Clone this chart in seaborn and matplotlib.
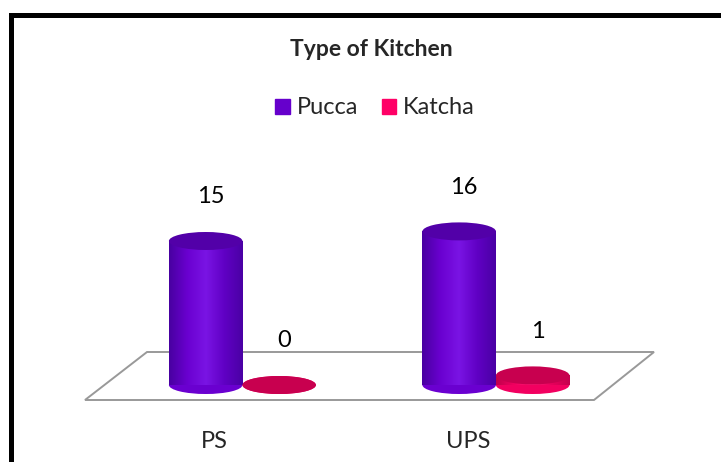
import numpy as np
import pandas as pd
import matplotlib.pyplot as plt
import seaborn as sns
from matplotlib.patches import Ellipse, Polygon, Rectangle, Patch
from matplotlib.colors import LinearSegmentedColormap

# data
schools = ["PS", "UPS"]
kitchen_types = ["Pucca", "Katcha"]
pucca = [15, 16]
katcha = [0, 1]

colors = {"Pucca": "#6600CC", "Katcha": "#FF0066"}
top_colors = {"Pucca": "#5200A8", "Katcha": "#C8004F"}
shades = {
    "Pucca": ["#4800A0", "#6A00D0", "#7A14E4", "#6000C4", "#4A00A4"],
    "Katcha": ["#C0004C", "#F20060", "#FF1A76", "#E8005C", "#C4004E"],
}

df = pd.DataFrame({
    "school": schools * 2,
    "kitchen": ["Pucca"] * len(pucca) + ["Katcha"] * len(katcha),
    "count": pucca + katcha,
})

sns.set_style("white")
plt.rcParams["font.family"] = ["Lato", "DejaVu Sans"]

W, H = 721, 462
fig = plt.figure(figsize=(W / 100, H / 100), dpi=100)

px_per_unit = 9.6
ax = fig.add_axes([85 / W, 62 / H, 569 / W, 250 / H])
ax.patch.set_visible(False)

sns.barplot(data=df, x="school", y="count", hue="kitchen", order=schools,
            hue_order=kitchen_types, palette=colors, width=0.58,
            linewidth=0, edgecolor="none", legend=False, ax=ax, zorder=3)

xlim = (-0.621, -0.621 + 569 / 253.5)
ylo = -15 / px_per_unit
ylim = (ylo, ylo + 250 / px_per_unit)
ell_h = 18 / px_per_unit

# turn flat bars into shaded cylinders
for kind, container in zip(kitchen_types, ax.containers):
    cmap = LinearSegmentedColormap.from_list(kind, shades[kind])
    grad = np.linspace(0, 1, 256).reshape(1, -1)
    for bar in container:
        x0, w, h = bar.get_x(), bar.get_width(), bar.get_height()
        cx = x0 + w / 2
        ax.add_patch(Ellipse((cx, 0), w, ell_h, color=shades[kind][1],
                             lw=0, zorder=2, clip_on=False))
        if h > 0:
            img = ax.imshow(grad, extent=[x0, x0 + w, 0, h], cmap=cmap,
                            aspect="auto", zorder=3.5)
            img.set_clip_path(bar)
        ax.add_patch(Ellipse((cx, h), w, ell_h, color=top_colors[kind],
                             lw=0, zorder=4, clip_on=False))
        ax.text(cx + 0.02, h + 4.6, f"{h:g}", ha="center", va="center",
                fontsize=17, color="black")

ax.set_xlim(*xlim)
ax.set_ylim(*ylim)

ax.set_xticks([i - 0.11 for i in range(len(schools))])
ax.set_xticklabels(schools, fontsize=17)
ax.tick_params(axis="x", length=0, pad=22)
ax.set_yticks([])
ax.set_xlabel("")
ax.set_ylabel("")
sns.despine(ax=ax, left=True, bottom=True)

# floor of the 3-D plot area
floor = [(85, 400), (594, 400), (654, 352), (147, 352)]
ax.add_patch(Polygon([(x / W, 1 - y / H) for x, y in floor], closed=True,
                     facecolor="white", edgecolor="#999999", lw=1.4,
                     transform=fig.transFigure, zorder=1, clip_on=False))

# chart border (cut off at right and bottom in the source image)
fig.patches.append(Rectangle((10.5 / W, -0.1), 1.2, 1 - 15 / H + 0.1,
                             transform=fig.transFigure, fill=False,
                             edgecolor="black", lw=3.6))

fig.text(371 / W, 1 - 50 / H, "Type of Kitchen", ha="center", va="center",
         fontsize=16.5, fontweight="bold")

handles = [Patch(color=colors[k], label=k) for k in kitchen_types]
fig.legend(handles=handles, loc="center", bbox_to_anchor=(375 / W, 1 - 108 / H),
           ncol=2, frameon=False, fontsize=17, handlelength=0.6,
           handleheight=0.6, handletextpad=0.3, columnspacing=1.0)

fig.savefig("out.png", dpi=100)
